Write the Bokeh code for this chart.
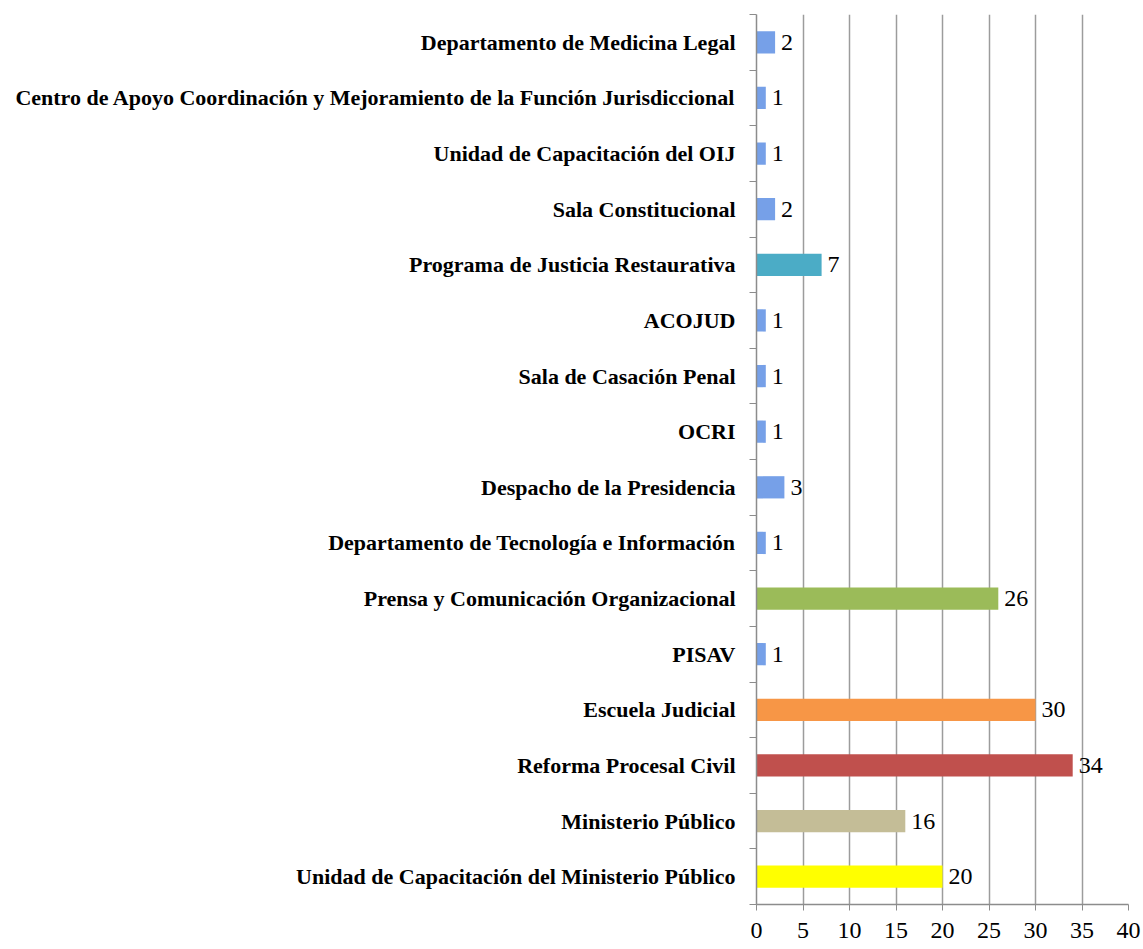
from bokeh.plotting import figure
from bokeh.models import ColumnDataSource, FixedTicker, Range1d
from bokeh.embed import file_html
from bokeh.resources import INLINE
from bokeh.core.properties import value

categories = [
    "Unidad de Capacitación del Ministerio Público",
    "Ministerio Público",
    "Reforma Procesal Civil",
    "Escuela Judicial",
    "PISAV",
    "Prensa y Comunicación Organizacional",
    "Departamento de Tecnología e Información",
    "Despacho de la Presidencia",
    "OCRI",
    "Sala de Casación Penal",
    "ACOJUD",
    "Programa de Justicia Restaurativa",
    "Sala Constitucional",
    "Unidad de Capacitación del OIJ",
    "Centro de Apoyo Coordinación y Mejoramiento de la Función Jurisdiccional",
    "Departamento de Medicina Legal",
]
counts = [20, 16, 34, 30, 1, 26, 1, 3, 1, 1, 1, 7, 2, 1, 1, 2]
colors = ["#ffff00", "#c4bd97", "#c0504d", "#f79646", "#76a0e8", "#9bbb59",
          "#76a0e8", "#76a0e8", "#76a0e8", "#76a0e8", "#76a0e8", "#4bacc6",
          "#76a0e8", "#76a0e8", "#76a0e8", "#76a0e8"]
x_ticks = [0, 5, 10, 15, 20, 25, 30, 35, 40]

n = len(categories)
ypos = [i + 0.5 for i in range(n)]
src = ColumnDataSource(dict(y=ypos, v=counts, c=colors, lab=[str(v) for v in counts]))

FONT = "Liberation Serif"

p = figure(width=1143, height=949, output_backend="svg", toolbar_location=None,
           x_range=Range1d(0, 40), y_range=Range1d(0, n),
           min_border_left=756, min_border_right=15, min_border_top=14, min_border_bottom=45)
p.outline_line_color = None
p.background_fill_color = "white"

p.hbar(y="y", right="v", left=0, height=0.4, fill_color="c", line_color=None, source=src)
p.text(x="v", y="y", text="lab", source=src, x_offset=6, text_align="left",
       text_baseline="middle", text_font=value(FONT), text_font_size="24px", text_color="black")

# x axis
p.xaxis.ticker = FixedTicker(ticks=x_ticks)
p.xaxis.axis_line_color = "#8c8c8c"
p.xaxis.axis_line_width = 1.5
p.xaxis.major_tick_line_color = "#8c8c8c"
p.xaxis.major_tick_out = 6
p.xaxis.major_tick_in = 0
p.xaxis.minor_tick_line_color = None
p.xaxis.major_label_text_font = FONT
p.xaxis.major_label_text_font_size = "24px"
p.xaxis.major_label_text_color = "black"
p.xaxis.major_label_standoff = 12

# y axis
p.yaxis.ticker = FixedTicker(ticks=ypos, minor_ticks=list(range(n + 1)))
p.yaxis.major_label_overrides = {y: c for y, c in zip(ypos, categories)}
p.yaxis.axis_line_color = "#8c8c8c"
p.yaxis.axis_line_width = 1.5
p.yaxis.major_tick_line_color = None
p.yaxis.minor_tick_line_color = "#8c8c8c"
p.yaxis.minor_tick_out = 7
p.yaxis.minor_tick_in = 0
p.yaxis.major_label_text_font = FONT
p.yaxis.major_label_text_font_style = "bold"
p.yaxis.major_label_text_font_size = "22px"
p.yaxis.major_label_text_color = "black"
p.yaxis.major_label_standoff = 14

p.xgrid.ticker = FixedTicker(ticks=x_ticks)
p.xgrid.grid_line_color = "#9c9c9c"
p.xgrid.grid_line_width = 1.5
p.ygrid.grid_line_color = None

open("out.html", "w").write(file_html(p, INLINE))
